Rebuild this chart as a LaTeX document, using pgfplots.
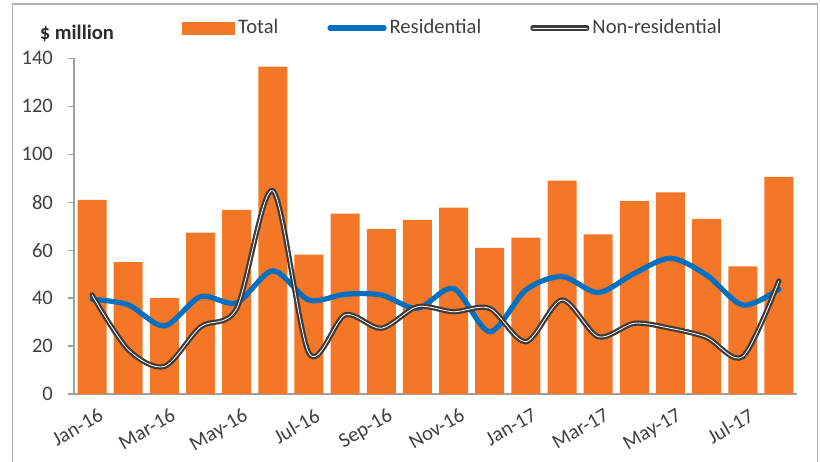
\documentclass[border=0pt]{standalone}
\usepackage{fontspec}
\setmainfont{Carlito}
\usepackage{pgfplots}
\pgfplotsset{compat=1.18}
\definecolor{barorange}{RGB}{243,119,38}
\definecolor{resblue}{RGB}{0,112,192}
\definecolor{nrdark}{RGB}{60,60,60}
\definecolor{txtgray}{RGB}{64,64,64}
\definecolor{axgray}{RGB}{160,160,160}
\begin{document}
\begin{tikzpicture}
\useasboundingbox (-37pt,-33.5pt) rectangle (373pt,197pt);
\draw[axgray!80, line width=0.6pt] (-30.75pt,-40pt) -- (-30.75pt,195pt) -- (371.75pt,195pt) -- (371.75pt,-40pt);
\begin{axis}[
  at={(0pt,0pt)}, anchor=south west,
  scale only axis,
  width=361.5pt, height=167.85pt,
  xmin=-0.5, xmax=19.5, ymin=0, ymax=140,
  axis x line*=bottom, axis y line*=left,
  axis line style={axgray, line width=0.6pt},
  xtick={0,2,...,18},
  xticklabels={Jan-16,Mar-16,May-16,Jul-16,Sep-16,Nov-16,Jan-17,Mar-17,May-17,Jul-17},
  ytick={0,20,...,140},
  tick align=outside,
  major tick length=3pt,
  major x tick style={draw=none},
  major y tick style={axgray, line width=0.6pt},
  /pgf/number format/assume math mode=true,
  tick label style={font=\fontsize{10.3}{12}\selectfont, text=txtgray},
  xticklabel style={rotate=30, anchor=north east, xshift=4pt, yshift=-1pt},
  yticklabel style={xshift=-4pt},
  legend columns=3,
  legend style={at={(0.149,1.09)}, anchor=west, draw=none, fill=none,
    font=\fontsize{10.3}{12}\selectfont, text=txtgray,
    inner xsep=0pt, inner ysep=0pt,
    nodes={inner xsep=1.5pt},
    /tikz/every even column/.append style={column sep=23pt}},
  clip=false,
]
\addplot[ybar, bar width=14.5pt, fill=barorange, draw=none,
  legend image code/.code={\fill[barorange] (0pt,-3.25pt) rectangle (26.5pt,3.25pt);}]
coordinates {
(0,81) (1,55) (2,40) (3,67.3) (4,76.8) (5,136.5) (6,58.1) (7,75.2) (8,68.8) (9,72.6)
(10,77.7) (11,60.9) (12,65.2) (13,89) (14,66.6) (15,80.4) (16,84.1) (17,73) (18,53.2) (19,90.5)
};
\addlegendentry{Total}
\addplot[smooth, resblue, line width=2.6pt, line cap=round,
  legend image code/.code={\draw[resblue, line width=2.6pt, line cap=round] (0pt,0pt) -- (27pt,0pt);}]
coordinates {
(0,39.5) (1,37.2) (2,28.4) (3,40.6) (4,38) (5,51.4) (6,39.2) (7,41.6) (8,41.3) (9,35.7)
(10,44) (11,26) (12,43.4) (13,49) (14,42.3) (15,50.3) (16,56.6) (17,49.6) (18,37.1) (19,43.7)
};
\addlegendentry{Residential}
\addplot[smooth, nrdark, line width=1.1pt, double=white, double distance=0.4pt, line cap=round,
  legend image code/.code={\draw[nrdark, line width=1.1pt, double=white, double distance=0.4pt, line cap=round] (0pt,0pt) -- (27pt,0pt);}]
coordinates {
(0,41.3) (1,18.5) (2,11.5) (3,28) (4,35.7) (5,84.8) (6,17) (7,33) (8,27.4) (9,36.4)
(10,34.3) (11,35.7) (12,21.8) (13,39.2) (14,23.9) (15,29.5) (16,27.4) (17,23.6) (18,15.6) (19,47.2)
};
\addlegendentry{Non-residential}
\node[font=\bfseries\fontsize{10.3}{12}\selectfont, text=txtgray!70!black] at (axis description cs:0.004,1.075) {\$ million};
\end{axis}
\end{tikzpicture}
\end{document}
